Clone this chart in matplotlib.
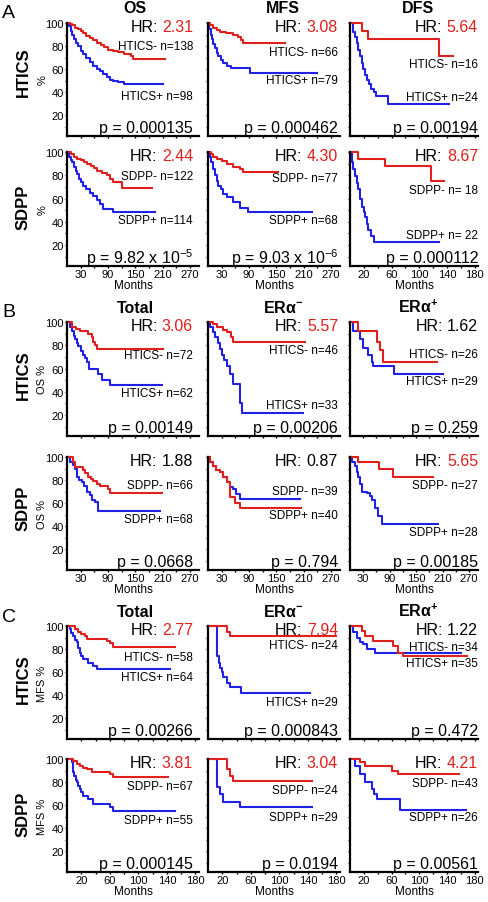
import matplotlib.pyplot as plt

plt.rcParams["font.family"] = ["Liberation Sans", "DejaVu Sans"]
plt.rcParams["mathtext.fontset"] = "custom"
plt.rcParams["mathtext.rm"] = "Liberation Sans"
plt.rcParams["mathtext.it"] = "Liberation Sans:italic"
plt.rcParams["mathtext.bf"] = "Liberation Sans:bold"

RED = "#e0201c"
BLUE = "#2020e6"

# Kaplan-Meier steps: (months, % event-free)
# --- A: whole cohort ---
OS_HTICS_NEG = [(0, 100), (6, 99), (12, 98), (18, 96), (24, 95), (30, 93), (36, 91), (42, 89),
                (50, 87), (58, 85), (66, 83), (74, 81), (82, 79), (90, 77), (102, 76), (112, 75),
                (126, 73), (140, 71), (146, 69), (216, 69)]
OS_HTICS_POS = [(0, 100), (4, 97), (8, 93), (12, 90), (16, 86), (20, 83), (25, 80), (30, 76),
                (35, 73), (42, 70), (50, 66), (57, 63), (65, 60), (72, 58), (80, 56), (88, 53),
                (95, 51), (101, 50), (112, 49), (125, 47), (211, 47)]
MFS_HTICS_NEG = [(0, 100), (5, 98), (11, 96), (20, 94), (26, 92), (40, 91), (55, 90), (65, 88),
                 (72, 85), (77, 83), (169, 83)]
MFS_HTICS_POS = [(0, 100), (3, 95), (6, 90), (9, 86), (12, 82), (15, 78), (19, 74), (23, 71),
                 (28, 68), (34, 65), (41, 63), (50, 61), (92, 57), (240, 57)]
DFS_HTICS_NEG = [(0, 100), (17, 93), (26, 86), (129, 71), (149, 71)]
DFS_HTICS_POS = [(0, 100), (4, 92), (7, 88), (10, 83), (12, 77), (14, 71), (17, 65), (19, 60),
                 (22, 55), (24, 51), (28, 47), (31, 43), (35, 40), (38, 37), (55, 30), (143, 30)]
OS_SDPP_NEG = [(0, 100), (8, 98), (15, 96), (22, 94), (30, 93), (38, 91), (44, 90), (52, 88),
               (60, 86), (66, 84), (76, 82), (88, 80), (95, 77), (101, 74), (121, 69), (187, 69)]
OS_SDPP_POS = [(0, 100), (4, 96), (8, 93), (11, 91), (15, 87), (19, 84), (22, 81), (26, 77),
               (30, 74), (35, 71), (42, 68), (51, 65), (58, 62), (65, 59), (73, 55), (80, 51),
               (100, 48), (193, 48)]
MFS_SDPP_NEG = [(0, 100), (6, 98), (12, 96), (20, 94), (30, 92), (41, 90), (55, 87), (70, 85),
                (77, 83), (154, 83)]
MFS_SDPP_POS = [(0, 100), (4, 96), (7, 91), (11, 85), (15, 80), (19, 75), (23, 71), (28, 68),
                (34, 64), (41, 61), (55, 57), (70, 52), (88, 48), (229, 48)]
DFS_SDPP_NEG = [(0, 100), (12, 94), (51, 88), (117, 75), (136, 75)]
DFS_SDPP_POS = [(0, 100), (3, 91), (5, 85), (7, 79), (10, 73), (12, 68), (15, 60), (17, 53),
                (20, 48), (22, 44), (24, 38), (26, 33), (30, 28), (34, 23), (129, 23)]

# --- B: OS by ER status ---
OS_T_HTICS_NEG = [(0, 100), (11, 96), (20, 94), (29, 92), (46, 90), (55, 87), (57, 83), (62, 80),
                  (66, 77), (211, 77)]
OS_T_HTICS_POS = [(0, 100), (6, 96), (11, 92), (15, 88), (18, 85), (21, 82), (24, 79), (30, 75),
                  (35, 72), (40, 69), (44, 66), (48, 60), (68, 55), (77, 50), (95, 46), (209, 46)]
OS_EN_HTICS_NEG = [(0, 100), (10, 98), (20, 96), (32, 93), (41, 91), (50, 87), (55, 83), (213, 83)]
OS_EN_HTICS_POS = [(0, 100), (5, 96), (11, 91), (16, 87), (21, 82), (26, 77), (31, 72), (36, 67),
                   (41, 62), (48, 55), (55, 47), (70, 30), (74, 22), (209, 22)]
OS_EP_HTICS_NEG = [(0, 100), (18, 92), (61, 83), (68, 76), (75, 66), (197, 66)]
OS_EP_HTICS_POS = [(0, 100), (7, 92), (23, 85), (30, 78), (41, 72), (50, 66), (52, 62), (100, 55),
                   (211, 55)]
OS_T_SDPP_NEG = [(0, 100), (13, 96), (18, 91), (35, 89), (40, 86), (46, 83), (52, 81), (57, 79),
                 (65, 77), (73, 75), (90, 72), (95, 69), (209, 69)]
OS_T_SDPP_POS = [(0, 100), (7, 96), (13, 93), (18, 90), (22, 83), (27, 80), (33, 78), (38, 75),
                 (44, 70), (50, 67), (55, 63), (62, 61), (68, 53), (204, 53)]
OS_EN_SDPP_NEG = [(0, 100), (5, 96), (11, 92), (18, 89), (26, 87), (33, 83), (41, 78), (48, 65),
                  (60, 60), (70, 56), (204, 56)]
OS_EN_SDPP_POS = [(0, 100), (5, 96), (11, 92), (18, 89), (26, 87), (33, 83), (41, 78), (48, 74),
                  (55, 72), (62, 68), (70, 64), (202, 64)]
OS_EP_SDPP_NEG = [(0, 100), (18, 96), (66, 90), (98, 83), (188, 83)]
OS_EP_SDPP_POS = [(0, 100), (5, 96), (11, 92), (15, 87), (18, 83), (22, 77), (27, 70), (39, 69),
                  (45, 66), (50, 63), (57, 56), (64, 49), (73, 42), (200, 42)]

# --- C: MFS by ER status ---
MFS_T_HTICS_NEG = [(0, 100), (11, 97), (15, 95), (20, 93), (25, 91), (28, 89), (56, 87), (60, 85),
                   (65, 82), (151, 82)]
MFS_T_HTICS_POS = [(0, 100), (4, 97), (6, 94), (8, 91), (11, 88), (14, 86), (16, 81), (18, 77),
                   (20, 74), (22, 71), (29, 68), (36, 65), (42, 63), (144, 63)]
MFS_EN_HTICS_NEG = [(0, 100), (27, 95), (31, 91), (180, 91)]
MFS_EN_HTICS_POS = [(0, 100), (12, 74), (15, 68), (17, 64), (19, 60), (21, 56), (26, 51), (31, 47),
                    (46, 42), (143, 42)]
MFS_EP_HTICS_NEG = [(0, 100), (17, 96), (22, 91), (33, 87), (62, 83), (70, 77), (76, 74), (169, 74)]
MFS_EP_HTICS_POS = [(0, 100), (5, 95), (10, 90), (14, 86), (19, 84), (25, 80), (36, 77), (160, 77)]
MFS_T_SDPP_NEG = [(0, 100), (8, 98), (14, 96), (18, 94), (23, 92), (28, 91), (35, 89), (60, 87),
                  (65, 84), (141, 84)]
MFS_T_SDPP_POS = [(0, 100), (7, 97), (8, 93), (9, 89), (10, 85), (12, 82), (14, 80), (16, 77),
                  (18, 74), (20, 71), (22, 68), (29, 65), (36, 61), (60, 58), (65, 55), (151, 55)]
MFS_EN_SDPP_NEG = [(0, 100), (27, 91), (31, 85), (35, 81), (146, 81)]
MFS_EN_SDPP_POS = [(0, 100), (13, 76), (17, 70), (21, 63), (45, 58), (146, 58)]
MFS_EP_SDPP_NEG = [(0, 100), (14, 97), (22, 94), (61, 90), (69, 87), (158, 87)]
MFS_EP_SDPP_POS = [(0, 100), (7, 94), (14, 87), (22, 80), (32, 74), (34, 70), (39, 65), (72, 56),
                   (168, 56)]

NEG_CURVES = [OS_HTICS_NEG, MFS_HTICS_NEG, DFS_HTICS_NEG, OS_SDPP_NEG, MFS_SDPP_NEG, DFS_SDPP_NEG,
              OS_T_HTICS_NEG, OS_EN_HTICS_NEG, OS_EP_HTICS_NEG, OS_T_SDPP_NEG, OS_EN_SDPP_NEG,
              OS_EP_SDPP_NEG, MFS_T_HTICS_NEG, MFS_EN_HTICS_NEG, MFS_EP_HTICS_NEG, MFS_T_SDPP_NEG,
              MFS_EN_SDPP_NEG, MFS_EP_SDPP_NEG]
POS_CURVES = [OS_HTICS_POS, MFS_HTICS_POS, DFS_HTICS_POS, OS_SDPP_POS, MFS_SDPP_POS, DFS_SDPP_POS,
              OS_T_HTICS_POS, OS_EN_HTICS_POS, OS_EP_HTICS_POS, OS_T_SDPP_POS, OS_EN_SDPP_POS,
              OS_EP_SDPP_POS, MFS_T_HTICS_POS, MFS_EN_HTICS_POS, MFS_EP_HTICS_POS, MFS_T_SDPP_POS,
              MFS_EN_SDPP_POS, MFS_EP_SDPP_POS]

HR_VALUES = [2.31, 3.08, 5.64, 2.44, 4.30, 8.67,
             3.06, 5.57, 1.62, 1.88, 0.87, 5.65,
             2.77, 7.94, 1.22, 3.81, 3.04, 4.21]
P_VALUES = [0.000135, 0.000462, 0.00194, 9.82e-5, 9.03e-6, 0.000112,
            0.00149, 0.00206, 0.259, 0.0668, 0.794, 0.00185,
            0.00266, 0.000843, 0.472, 0.000145, 0.0194, 0.00561]
NEG_LABELS = ["HTICS- n=138", "HTICS- n=66", "HTICS- n=16", "SDPP- n=122", "SDPP- n=77", "SDPP- n= 18",
              "HTICS- n=72", "HTICS- n=46", "HTICS- n=26", "SDPP- n=66", "SDPP- n=39", "SDPP- n=27",
              "HTICS- n=58", "HTICS- n=24", "HTICS- n=34", "SDPP- n=67", "SDPP- n=24", "SDPP- n=43"]
POS_LABELS = ["HTICS+ n=98", "HTICS+ n=79", "HTICS+ n=24", "SDPP+ n=114", "SDPP+ n=68", "SDPP+ n= 22",
              "HTICS+ n=62", "HTICS+ n=33", "HTICS+ n=29", "SDPP+ n=68", "SDPP+ n=40", "SDPP+ n=28",
              "HTICS+ n=64", "HTICS+ n=29", "HTICS+ n=35", "SDPP+ n=55", "SDPP+ n=29", "SDPP+ n=26"]
SECTIONS = ["A", "B", "C"]
COL_TITLES = [["OS", "MFS", "DFS"],
              ["Total", r"ERα$^{\mathbf{-}}$", r"ERα$^{\mathbf{+}}$"],
              ["Total", r"ERα$^{\mathbf{-}}$", r"ERα$^{\mathbf{+}}$"]]
ROW_NAMES = ["HTICS", "SDPP"]
Y_LABELS = ["%", "OS %", "MFS %"]

# ---- layout (pixels of the 488x903 figure) ----
W, H = 488, 903
COL_PX = [(67, 199), (208, 340), (350, 478)]
ROW_PX = [(24, 137), (153, 267), (323, 437), (458, 571), (627, 740), (760, 873)]
TITLE_X = [135, 283, 418]
TITLE_BASE = [13, 313, 617]
LETTER_BASE = [18, 317, 622]
ROW_LABEL_Y = [72, 207, 375, 508, 679, 814]
TEXT_RIGHT = [0.955, 0.985, 1.0]
# axes-fraction heights of the group labels
NEG_Y = [0.80, 0.74, 0.64, 0.79, 0.77, 0.67,
         0.71, 0.75, 0.72, 0.75, 0.70, 0.75,
         0.73, 0.83, 0.81, 0.76, 0.73, 0.79]
POS_Y = [0.354, 0.50, 0.345, 0.40, 0.40, 0.27,
         0.38, 0.27, 0.48, 0.45, 0.49, 0.34,
         0.55, 0.33, 0.67, 0.46, 0.49, 0.49]


def p_text(p):
    if p < 1e-4:
        mant, exp = f"{p:.2e}".split("e")
        return f"p = {mant} x 10$^{{{int(exp)}}}$"
    return f"p = {p:g}"


def x_scale(section, col):
    # 180-month axes: DFS column and the whole MFS section
    if section == 2 or (section == 0 and col == 2):
        return 185, list(range(20, 181, 20)), [20, 60, 100, 140, 180]
    return 290, list(range(30, 271, 30)), [30, 90, 150, 210, 270]


fig = plt.figure(figsize=(W / 100, H / 100), dpi=100)

for k in range(18):
    sec, rem = divmod(k, 6)
    row, col = divmod(rem, 3)
    r = sec * 2 + row
    x0, x1 = COL_PX[col]
    y0, y1 = ROW_PX[r]
    ax = fig.add_axes([x0 / W, 1 - y1 / H, (x1 - x0) / W, (y1 - y0) / H])

    for curve, color in ((POS_CURVES[k], BLUE), (NEG_CURVES[k], RED)):
        ax.step([c[0] for c in curve], [c[1] for c in curve], where="post",
                color=color, lw=1.5, clip_on=False)

    xmax, ticks, labelled = x_scale(sec, col)
    ax.set_xlim(0, xmax)
    ax.set_ylim(2, 100)
    for side in ("top", "right"):
        ax.spines[side].set_visible(False)
    for side in ("left", "bottom"):
        ax.spines[side].set_linewidth(1.6)

    ax.set_xticks(ticks)
    ax.set_yticks([20, 40, 60, 80, 100])
    ax.set_yticks([10, 30, 50, 70, 90], minor=True)
    ax.tick_params(axis="both", which="both", length=1.5, width=1, direction="out",
                   labelsize=8, pad=1)
    if row == 1:
        ax.set_xticklabels([str(t) if t in labelled else "" for t in ticks])
        ax.set_xlabel("Months", fontsize=8.5, labelpad=0)
    else:
        ax.tick_params(axis="x", labelbottom=False)
    if col == 0:
        ax.set_ylabel(Y_LABELS[sec], fontsize=8)
        ax.yaxis.set_label_coords(-0.15, 0.5)
    else:
        ax.tick_params(axis="y", labelleft=False)

    xr = TEXT_RIGHT[col]
    hr = HR_VALUES[k]
    num = ax.text(xr, 0.965, f"{hr:.2f}", transform=ax.transAxes, ha="right", va="center",
                  fontsize=11.5, color=RED if P_VALUES[k] < 0.05 else "black")
    ax.annotate("HR:", xy=(0, 0), xycoords=num, xytext=(-3, 0), textcoords="offset points",
                ha="right", va="bottom", fontsize=11.5)
    ax.text(xr, NEG_Y[k], NEG_LABELS[k], transform=ax.transAxes, ha="right", va="center",
            fontsize=8.5)
    ax.text(xr, POS_Y[k], POS_LABELS[k], transform=ax.transAxes, ha="right", va="center",
            fontsize=8.5)
    ax.text(xr, 0.075, p_text(P_VALUES[k]), transform=ax.transAxes, ha="right", va="center",
            fontsize=11.5)

for sec in range(3):
    fig.text(2 / W, 1 - LETTER_BASE[sec] / H, SECTIONS[sec], fontsize=14, va="baseline")
    for col in range(3):
        fig.text(TITLE_X[col] / W, 1 - TITLE_BASE[sec] / H, COL_TITLES[sec][col],
                 fontsize=11.5, fontweight="bold", ha="center", va="baseline")
    for row in range(2):
        fig.text(23 / W, 1 - ROW_LABEL_Y[sec * 2 + row] / H, ROW_NAMES[row], rotation=90,
                 fontsize=12, fontweight="bold", ha="center", va="center")

fig.savefig("out.png", dpi=100)
